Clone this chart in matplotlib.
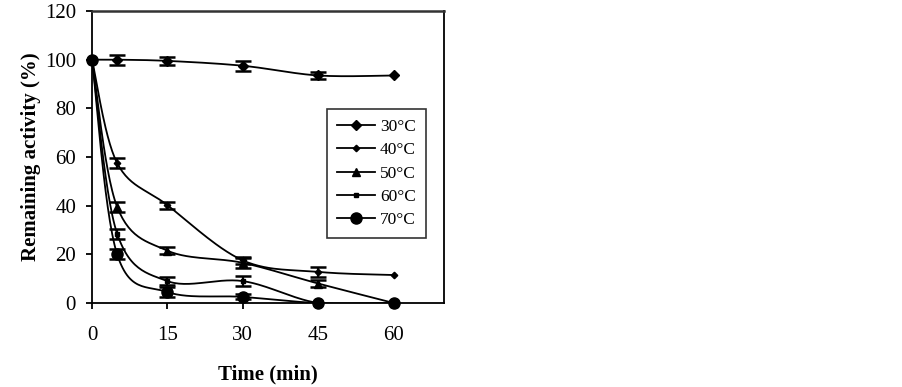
import numpy as np
import matplotlib
matplotlib.use("Agg")
import matplotlib.pyplot as plt

plt.rcParams['font.family'] = ['Liberation Serif', 'DejaVu Serif']

time = [0, 5, 15, 30, 45, 60]
labels = ['30°C', '40°C', '50°C', '60°C', '70°C']
act_30 = [100, 100, 99.5, 97.5, 93.5, 93.5]
act_40 = [100, 57.5, 40.2, 17.5, 12.8, 11.5]
act_50 = [100, 39.5, 21.5, 16.5, 8.0, 0.0]
act_60 = [100, 28.5, 9.0, 9.0, 0.0, 0.0]
act_70 = [100, 20.0, 4.5, 2.5, 0.0, 0.0]
err_30 = [0, 2.0, 1.5, 2.0, 1.5, 0]
err_40 = [0, 2.0, 1.5, 1.5, 2.0, 0]
err_50 = [0, 2.0, 1.5, 2.0, 1.5, 0]
err_60 = [0, 2.0, 1.5, 2.0, 0, 0]
err_70 = [0, 2.0, 2.0, 1.0, 0, 0]

series = [act_30, act_40, act_50, act_60, act_70]
errors = [err_30, err_40, err_50, err_60, err_70]
markers = [('D', 5.5), ('D', 3.3), ('^', 5.5), ('s', 2.6), ('o', 8)]

fig = plt.figure(figsize=(9.02, 3.87), dpi=100)
ax = fig.add_axes([92/902, 1-303/387, (444-92)/902, (303-11)/387])
ax.set_xlim(0, 70)
ax.set_ylim(0, 120)
fig.canvas.draw()


def excel_smooth(xs, ys, n=30):
    pts = ax.transData.transform(np.column_stack([xs, ys]))
    out = []
    m = len(pts)
    for i in range(m - 1):
        p0 = pts[i - 1] if i > 0 else pts[i]
        p1 = pts[i]
        p2 = pts[i + 1]
        p3 = pts[i + 2] if i + 2 < m else pts[i + 1]
        c1 = p1 + (p2 - p0) / 6.0
        c2 = p2 - (p3 - p1) / 6.0
        t = np.linspace(0, 1, n)[:, None]
        seg = ((1 - t) ** 3) * p1 + 3 * ((1 - t) ** 2) * t * c1 + 3 * (1 - t) * t ** 2 * c2 + t ** 3 * p2
        out.append(seg if i == 0 else seg[1:])
    out = np.vstack(out)
    return ax.transData.inverted().transform(out)


for ys, es, (mk, ms), lab in zip(series, errors, markers, labels):
    curve = excel_smooth(time, ys)
    ax.plot(curve[:, 0], curve[:, 1], color='black', lw=1.3, zorder=3)
    ex = [t for t, e in zip(time, es) if e > 0]
    ey = [y for y, e in zip(ys, es) if e > 0]
    ee = [e for e in es if e > 0]
    ax.errorbar(ex, ey, yerr=ee, fmt='none', ecolor='black', elinewidth=1.6,
                capsize=5.5, capthick=1.8, zorder=4)
    ax.plot(time, ys, linestyle='none', marker=mk, markersize=ms,
            color='black', zorder=5, clip_on=False)
    ax.plot([], [], color='black', lw=1.3, marker=mk, markersize=ms, label=lab)

ax.set_xticks([0, 15, 30, 45, 60])
ax.set_yticks(range(0, 121, 20))
ax.tick_params(axis='x', direction='out', length=4.5, width=1.3,
               labelsize=15, pad=12, color='black')
ax.tick_params(axis='y', direction='out', length=4.5, width=1.3,
               labelsize=15, pad=7, color='black')
for s in ax.spines.values():
    s.set_linewidth(1.3)
    s.set_color('black')
ax.spines['top'].set_linewidth(1.8)
ax.spines['top'].set_color('#333333')

ax.set_xlabel('Time (min)', fontsize=15, fontweight='bold', labelpad=14)
ax.set_ylabel('Remaining activity (%)', fontsize=15, fontweight='bold', labelpad=3)

leg = ax.legend(loc='upper left', bbox_to_anchor=((327-92)/352, 1-(109-11)/292),
                frameon=True, fancybox=False, edgecolor='black', fontsize=12.5,
                handlelength=2.2, borderpad=0.55, labelspacing=0.42,
                handletextpad=0.3, borderaxespad=0)
leg.get_frame().set_linewidth(1.2)

fig.savefig('out.png', dpi=100)
